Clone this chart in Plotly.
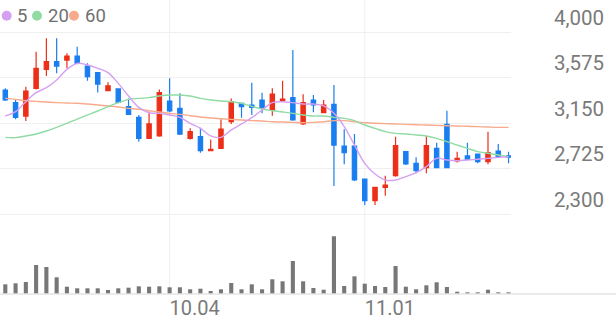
import plotly.graph_objects as go

days = list(range(50))
opens = [3458, 3340, 3215, 3474, 3651, 3723, 3738, 3776, 3682, 3620,
         3452, 3468, 3303, 3203, 3007, 3029, 3355, 3287, 3007, 3022,
         2891, 2913, 3162, 3334, 3318, 3365, 3271, 3362, 3387, 3141,
         3365, 3246, 3324, 2935, 2935, 2627, 2424, 2549, 2658, 2882,
         2773, 2733, 2913, 3137, 2795, 2842, 2860, 2789, 2888, 2842]
highs = [3474, 3374, 3489, 3816, 3941, 3941, 3801, 3863, 3707, 3620,
         3530, 3468, 3380, 3225, 3256, 3464, 3567, 3427, 3100, 3106,
         2997, 3184, 3380, 3334, 3527, 3433, 3474, 3545, 3832, 3418,
         3411, 3365, 3505, 3091, 3047, 2627, 2549, 2658, 3022, 2882,
         2829, 3029, 2966, 3265, 2882, 2966, 2860, 3069, 2954, 2882]
lows = [3355, 3184, 3169, 3464, 3589, 3614, 3661, 3698, 3545, 3436,
        3452, 3334, 3225, 2976, 3001, 3022, 3250, 3038, 2997, 2873,
        2888, 2907, 3141, 3200, 3225, 3240, 3218, 3362, 3172, 3131,
        3250, 3240, 2561, 2764, 2608, 2384, 2384, 2471, 2649, 2758,
        2680, 2680, 2733, 2733, 2780, 2805, 2773, 2764, 2826, 2773]
closes = [3365, 3203, 3449, 3660, 3723, 3682, 3776, 3707, 3583, 3514,
          3496, 3343, 3231, 3007, 3141, 3433, 3262, 3047, 3069, 2891,
          2904, 3094, 3349, 3303, 3296, 3287, 3421, 3374, 3178, 3340,
          3318, 3318, 2944, 2873, 2618, 2424, 2549, 2571, 2938, 2767,
          2705, 2938, 2733, 2733, 2820, 2811, 2789, 2873, 2835, 2830]
ma5 = [3215, 3256, 3349, 3433, 3480, 3552, 3651, 3707, 3692, 3661,
       3620, 3520, 3402, 3296, 3246, 3240, 3225, 3203, 3147, 3100,
       3029, 3016, 3085, 3141, 3200, 3271, 3340, 3349, 3340, 3327,
       3327, 3309, 3240, 3116, 2944, 2773, 2673, 2617, 2617, 2649,
       2686, 2742, 2820, 2804, 2798, 2804, 2811, 2820, 2829, 2835]
ma20 = [3016, 3013, 3029, 3047, 3075, 3109, 3147, 3187, 3225, 3262,
        3303, 3340, 3371, 3380, 3387, 3402, 3411, 3411, 3402, 3380,
        3365, 3355, 3349, 3334, 3306, 3281, 3265, 3253, 3240, 3225,
        3215, 3215, 3203, 3193, 3172, 3131, 3100, 3069, 3053, 3047,
        3038, 3029, 3007, 2976, 2944, 2913, 2882, 2867, 2851, 2835]
ma60 = [3380, 3371, 3359, 3352, 3346, 3340, 3337, 3334, 3327, 3318,
        3309, 3299, 3287, 3278, 3265, 3253, 3240, 3231, 3218, 3206,
        3197, 3190, 3184, 3178, 3172, 3169, 3162, 3159, 3156, 3153,
        3156, 3162, 3172, 3172, 3162, 3153, 3147, 3144, 3141, 3137,
        3134, 3131, 3128, 3125, 3122, 3119, 3116, 3112, 3109, 3109]
volume = [97000, 107000, 120000, 290000, 270000, 167000, 73000, 57000, 57000, 57000,
          40000, 57000, 63000, 77000, 73000, 77000, 67000, 67000, 47000, 53000,
          30000, 47000, 110000, 47000, 97000, 47000, 147000, 127000, 330000, 127000,
          60000, 43000, 577000, 80000, 177000, 103000, 80000, 70000, 280000, 73000,
          47000, 87000, 117000, 70000, 23000, 17000, 17000, 43000, 17000, 17000]
price_ticks = [2300, 2725, 3150, 3575, 4000]
price_labels = ["2,300", "2,725", "3,150", "3,575", "4,000"]
date_ticks = [16, 35]
date_labels = ["10.04", "11.01"]
legend_names = ["5", "20", "60"]

RED = "#ec2f18"
BLUE = "#1a7ef0"
MA_COLORS = ["#d6a0f2", "#90dba3", "#f8aa8c"]
GRID = "#f0f0f0"
TXT = "#7a7a7a"

W, H = 616, 321
PB = 27
PH = H - PB  # plot area height in px

def py(p):
    return 1 - p / PH

fig = go.Figure()
for vals, col in zip([ma60, ma20, ma5], [MA_COLORS[2], MA_COLORS[1], MA_COLORS[0]]):
    fig.add_trace(go.Scatter(x=days, y=vals, mode="lines", line=dict(color=col, width=1.4, shape="spline"),
                             xaxis="x", yaxis="y", showlegend=False, hoverinfo="skip"))
fig.add_trace(go.Candlestick(
    x=days, open=opens, high=highs, low=lows, close=closes,
    increasing=dict(line=dict(color=RED, width=1.2), fillcolor=RED),
    decreasing=dict(line=dict(color=BLUE, width=1.2), fillcolor=BLUE),
    whiskerwidth=0, xaxis="x", yaxis="y", showlegend=False, hoverinfo="skip"))
fig.add_trace(go.Bar(x=days, y=volume, width=0.4, marker=dict(color="#777777", line=dict(width=0)),
                     xaxis="x2", yaxis="y2", showlegend=False, hoverinfo="skip"))

xdom = [0, 511 / W]
xrng = [-5.3 / 10.27, (511 - 5.3) / 10.27]
scale = 1700 / 182.0
fig.update_layout(
    width=W, height=H,
    margin=dict(l=0, r=0, t=0, b=PB, pad=0),
    paper_bgcolor="white", plot_bgcolor="white",
    boxgap=0.4,
    font=dict(family="Roboto", color=TXT),
    xaxis=dict(domain=xdom, range=xrng, showgrid=False, zeroline=False, showticklabels=False,
               rangeslider=dict(visible=False), anchor="y", fixedrange=True),
    yaxis=dict(domain=[1 - 216 / PH, 1], range=[2300 - 2 * scale, 4000 + 32 * scale],
               side="right", tickvals=price_ticks, ticktext=price_labels,
               showgrid=True, gridcolor=GRID, gridwidth=1, zeroline=False, showline=False,
               ticks="", ticklabelposition="outside top", ticklabelstandoff=42,
               tickfont=dict(size=20.5, color=TXT), anchor="x", automargin=False),
    xaxis2=dict(domain=xdom, range=xrng, showgrid=False, zeroline=False, anchor="y2",
                tickvals=date_ticks, ticktext=date_labels, ticks="",
                ticklabelposition="outside right", ticklabelstandoff=0,
                tickfont=dict(size=20, color=TXT),
                matches="x", automargin=False),
    yaxis2=dict(domain=[0, 0.25], range=[0, 735000], showgrid=False, zeroline=False,
                showticklabels=False, anchor="x2"),
)

shapes = []
for t in date_ticks:
    shapes.append(dict(type="line", xref="x", yref="paper", x0=t, x1=t, y0=0, y1=1,
                       line=dict(color=GRID, width=1), layer="below"))
shapes.append(dict(type="line", xref="paper", yref="paper", x0=0, x1=1, y0=0, y1=0,
                   line=dict(color="#e4e4e4", width=1.5), layer="above"))
dot_x = [6.7, 37, 74]
text_x = [15, 45.5, 82.5]
annotations = []
for cx, tx, col, name in zip(dot_x, text_x, MA_COLORS, legend_names):
    shapes.append(dict(type="circle", xref="paper", yref="paper",
                       x0=(cx - 5) / W, x1=(cx + 5) / W, y0=py(15.7 + 5), y1=py(15.7 - 5),
                       fillcolor=col, line=dict(width=0)))
    annotations.append(dict(xref="paper", yref="paper", x=tx / W, y=py(16), xanchor="left",
                            yanchor="middle", text=name, showarrow=False,
                            font=dict(size=18.5, color="#707070", family="Roboto")))
fig.update_layout(shapes=shapes, annotations=annotations)

fig.write_html("out.html")
